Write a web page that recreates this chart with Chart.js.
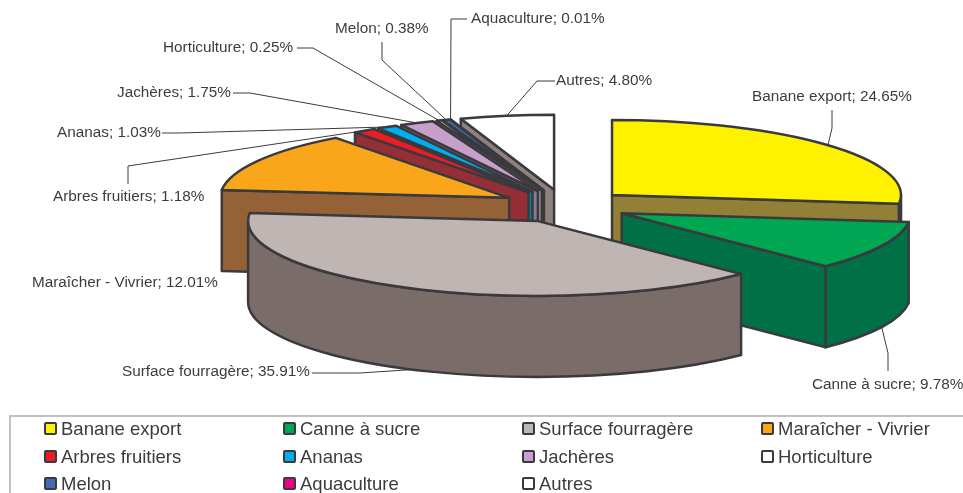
<!doctype html>
<html lang="fr">
  <head>
    <meta charset="utf-8">
    <title>Surfaces</title>
    <style>
      * { margin: 0; padding: 0; }
      body { background: #fff; overflow: hidden; }
      #chartBox { position: absolute; left: 0; top: 0; width: 963px; height: 493px; }
      #legend {
        position: absolute; left: 9px; top: 415px; width: 954px; height: 78px;
        border-top: 2px solid #c4c1bf; border-left: 2px solid #c4c1bf;
        box-sizing: border-box;
        font: 18.5px "Liberation Sans", sans-serif; color: #3c3c40;
      }
      .item { position: absolute; height: 22px; line-height: 22px; white-space: nowrap; }
      .item i {
        position: absolute; left: -17px; top: 4px; width: 9px; height: 9px;
        border: 2px solid #3a3a3e; border-radius: 2px;
      }
    </style>
  </head>
  <body>
    <div id="chartBox"><canvas id="myChart"></canvas></div>
    <div id="legend"></div>
    <script src="https://cdn.jsdelivr.net/npm/chart.js@4/dist/chart.umd.min.js"></script>
    <script>
    const labels = ['Banane export', 'Canne à sucre', 'Surface fourragère', 'Maraîcher - Vivrier', 'Arbres fruitiers', 'Ananas', 'Jachères', 'Horticulture', 'Melon', 'Aquaculture', 'Autres'];
    const values = [24.65, 9.78, 35.91, 12.01, 1.18, 1.03, 1.75, 0.25, 0.38, 0.01, 4.80];

    const topColors = ['#fff200', '#00a651', '#bfb5b2', '#f9a61a', '#ed1c24', '#00aeef', '#c69fca', '#ffffff', '#3f6cb4', '#ec008c', '#ffffff'];
    const wallColors = ['#938037', '#007147', '#7a6c68', '#946236', '#952f35', '#007f9f', '#8d7a92', '#8f8f8f', '#2f4f86', '#8a0052', '#8f827d'];

    // label left edge / middle, then elbow points of the leader line (label side first)
    const labelPos = [[752, 97], [812, 385], [122, 372], [32, 283], [53, 197], [57, 133], [117, 93], [163, 48], [335, 29], [471, 19], [556, 81]];
    const leaders = [
      [[832, 110], [832, 128]],
      [[888, 371], [888, 353]],
      [[312, 373], [360, 373]],
      null,
      [[128, 184], [128, 166]],
      [[162, 133], [180, 133]],
      [[233, 93], [250, 93]],
      [[297, 48], [313, 48]],
      [[382, 42], [382, 60]],
      [[467, 19], [451, 19]],
      [[555, 81], [537, 81]]
    ];

    // flattened pie: ellipse radii, wall height, explosion as part of the radius
    const rx = 289, ry = 75, wall = 81, explode = 0.22;
    const lineColor = '#3a3a3e';

    function geom(arc) {
      const mid = (arc.startAngle + arc.endAngle) / 2;
      return {
        arc, mid,
        ax: arc.x + explode * rx * Math.cos(mid),
        ay: arc.y + explode * ry * Math.sin(mid)
      };
    }

    function paint(ctx, fill) {
      ctx.fillStyle = fill;
      ctx.fill();
      ctx.stroke();
    }

    function radialWall(ctx, g, t, fill) {
      const x = g.ax + rx * Math.cos(t), y = g.ay + ry * Math.sin(t);
      ctx.beginPath();
      ctx.moveTo(g.ax, g.ay);
      ctx.lineTo(x, y);
      ctx.lineTo(x, y + wall);
      ctx.lineTo(g.ax, g.ay + wall);
      ctx.closePath();
      paint(ctx, fill);
    }

    const pie3d = {
      id: 'pie3d',
      beforeDatasetDraw(chart) {
        const ctx = chart.ctx;
        const arcs = chart.getDatasetMeta(0).data.map((arc, i) => Object.assign(geom(arc), {i}));
        // back slices first
        arcs.sort((a, b) => (a.ay + ry * Math.sin(a.mid)) - (b.ay + ry * Math.sin(b.mid)));

        ctx.save();
        ctx.lineWidth = 2.5;
        ctx.lineJoin = 'round';
        ctx.strokeStyle = lineColor;

        arcs.forEach(g => {
          const {startAngle, endAngle} = g.arc;
          const fill = wallColors[g.i];
          if (Math.cos(startAngle) < -1e-6) radialWall(ctx, g, startAngle, fill);
          if (Math.cos(endAngle) > 1e-6) radialWall(ctx, g, endAngle, fill);
          const a = Math.max(startAngle, 0), b = Math.min(endAngle, Math.PI);
          if (a < b) {
            ctx.beginPath();
            ctx.ellipse(g.ax, g.ay, rx, ry, 0, a, b);
            ctx.ellipse(g.ax, g.ay + wall, rx, ry, 0, b, a, true);
            ctx.closePath();
            paint(ctx, fill);
          }
        });

        arcs.forEach(g => {
          const arc = g.arc;
          ctx.save();
          ctx.translate(g.ax, g.ay);
          ctx.scale(rx / arc.outerRadius, ry / arc.outerRadius);
          ctx.translate(-arc.x, -arc.y);
          arc.draw(ctx);
          ctx.restore();
          ctx.beginPath();
          ctx.moveTo(g.ax, g.ay);
          ctx.ellipse(g.ax, g.ay, rx, ry, 0, arc.startAngle, arc.endAngle);
          ctx.closePath();
          ctx.stroke();
        });
        ctx.restore();
        return false;
      },
      afterDraw(chart) {
        const ctx = chart.ctx;
        ctx.save();
        ctx.font = '15.3px "Liberation Sans", sans-serif';
        ctx.textBaseline = 'middle';
        ctx.fillStyle = '#3c3c40';
        ctx.strokeStyle = '#3a3a3e';
        ctx.lineWidth = 1;
        chart.getDatasetMeta(0).data.forEach((arc, i) => {
          ctx.fillText(labels[i] + '; ' + values[i].toFixed(2) + '%', labelPos[i][0], labelPos[i][1]);
          if (!leaders[i]) return;
          const g = geom(arc);
          const sin = Math.sin(g.mid);
          ctx.beginPath();
          leaders[i].forEach((p, k) => k ? ctx.lineTo(p[0], p[1]) : ctx.moveTo(p[0], p[1]));
          ctx.lineTo(g.ax + rx * Math.cos(g.mid), g.ay + ry * sin + (sin > 0 ? wall : 0));
          ctx.stroke();
        });
        ctx.restore();
      }
    };

    const myChart = new Chart(document.getElementById('myChart'), {
      type: 'pie',
      data: {
        labels,
        datasets: [{ data: values, backgroundColor: topColors, borderWidth: 0 }]
      },
      options: {
        responsive: true,
        maintainAspectRatio: false,
        animation: false,
        events: [],
        layout: { padding: { left: 166, bottom: 81 } },
        plugins: { legend: { display: false }, tooltip: { enabled: false } }
      },
      plugins: [pie3d]
    });

    // legend: four columns, filled row by row
    const legend = document.getElementById('legend');
    const colX = [50, 289, 528, 767], rowY = [1, 29, 56];
    labels.forEach((name, i) => {
      const item = document.createElement('div');
      item.className = 'item';
      item.style.left = colX[i % 4] + 'px';
      item.style.top = rowY[Math.floor(i / 4)] + 'px';
      const box = document.createElement('i');
      box.style.background = topColors[i];
      item.appendChild(box);
      item.appendChild(document.createTextNode(name));
      legend.appendChild(item);
    });
    </script>
  </body>
</html>
